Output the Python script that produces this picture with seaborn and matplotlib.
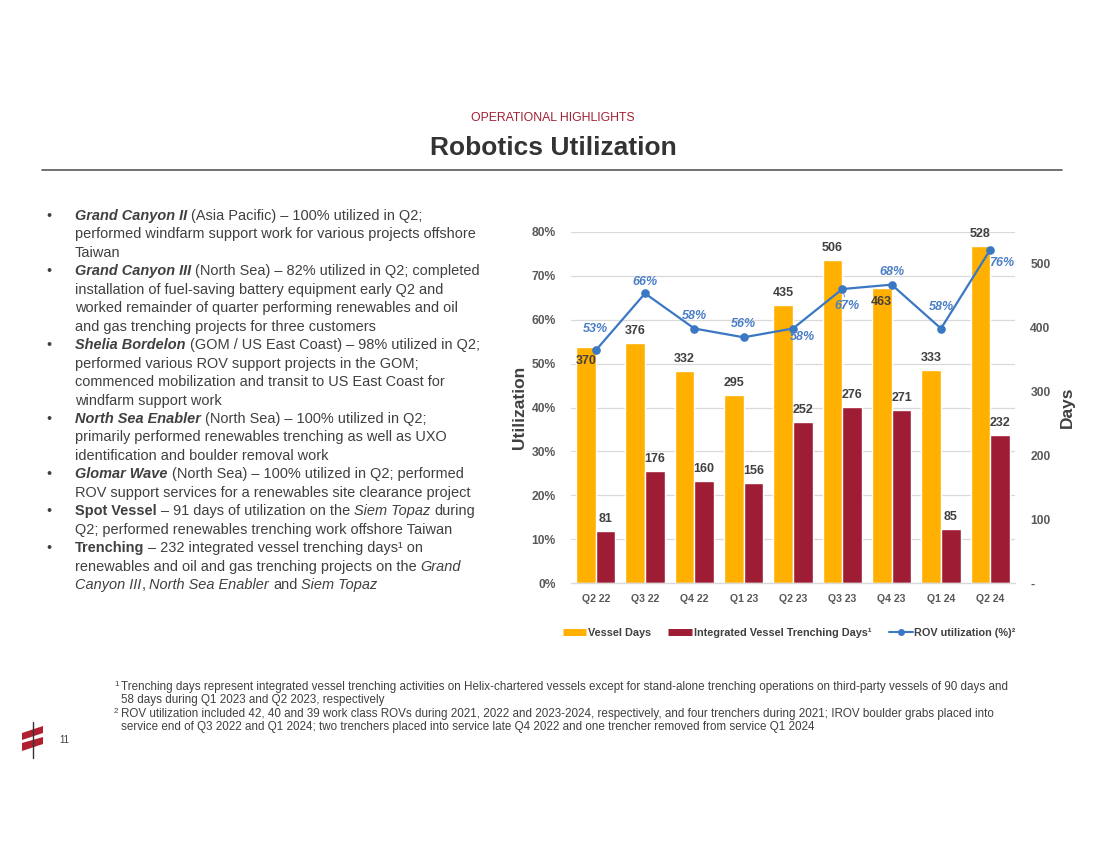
import numpy as np
import pandas as pd
import matplotlib
matplotlib.use("Agg")
import matplotlib.pyplot as plt
import matplotlib.font_manager as fm
from matplotlib.lines import Line2D
from matplotlib.patches import Polygon
import seaborn as sns

# ---------------- data ----------------
quarters = ["Q2 22", "Q3 22", "Q4 22", "Q1 23", "Q2 23", "Q3 23", "Q4 23", "Q1 24", "Q2 24"]
vessel_days = [370, 376, 332, 295, 435, 506, 463, 333, 528]
trench_days = [81, 176, 160, 156, 252, 276, 271, 85, 232]
rov_util = [53, 66, 58, 56, 58, 67, 68, 58, 76]
series_names = ["Vessel Days", "Integrated Vessel Trenching Days\u00b9"]
line_name = "ROV utilization (%)\u00b2"
util_ticks = [0, 10, 20, 30, 40, 50, 60, 70, 80]
days_ticks = [0, 100, 200, 300, 400, 500]
days_tick_labels = ["-", "100", "200", "300", "400", "500"]

# ---------------- style ----------------
sns.set_style("white")
plt.rcParams["font.family"] = ["Liberation Sans", "DejaVu Sans"]

ORANGE = "#FFB000"
RED = "#9E1C34"
BLUE = "#3B78C4"
LBLUE = "#4A7EC6"
TXT = "#404040"
TICK = "#595959"
GRID = "#D9D9D9"

W, H = 1100, 849
fig = plt.figure(figsize=(W / 100, H / 100), dpi=100)
fig.patch.set_facecolor("white")


def fx(x):
    return x / W


def fy(y):
    return 1 - y / H


# ---------------- chart ----------------
ax = fig.add_axes([fx(571), fy(583), 444 / W, 351 / H])
df = pd.DataFrame({
    "Quarter": quarters * 2,
    "Days": vessel_days + trench_days,
    "Series": [series_names[0]] * len(quarters) + [series_names[1]] * len(quarters),
})
sns.barplot(data=df, x="Quarter", y="Days", hue="Series", palette=[ORANGE, RED],
            saturation=1, width=0.8, errorbar=None, legend=False, ax=ax, zorder=2)

ax2 = ax.twinx()
sns.pointplot(x=quarters, y=rov_util, color=BLUE, markers="o", markersize=5,
              linewidth=1.6, errorbar=None, ax=ax2)

ax.set_xlim(-0.5, len(quarters) - 0.5)
ax.set_ylim(0, 550)
ax2.set_ylim(0, 80)

# right axis (days) on primary
ax.yaxis.tick_right()
ax.yaxis.set_label_position("right")
ax.set_yticks(days_ticks)
ax.set_yticklabels(days_tick_labels)
ax.set_yticks(np.linspace(0, 550, 9), minor=True)
ax.grid(False)
ax.grid(True, which="minor", axis="y", color=GRID, lw=0.9, zorder=0)
ax.set_axisbelow(True)
ax.tick_params(axis="y", which="both", length=0, pad=11, labelsize=8.7, labelcolor=TICK)
for lab in ax.get_yticklabels():
    lab.set_fontweight("bold")
ax.set_ylabel("Days", fontsize=12.5, fontweight="bold", color=TXT, labelpad=7)
ax.set_xticks(range(len(quarters)))
ax.set_xticklabels(quarters, fontsize=7.6, fontweight="bold", color=TICK)
ax.tick_params(axis="x", length=0, pad=8)
ax.set_xlabel("")
for s in ["top", "left", "right"]:
    ax.spines[s].set_visible(False)
ax.spines["bottom"].set_color(GRID)
ax.spines["bottom"].set_linewidth(1)

# left axis (utilization) on twin
ax2.yaxis.tick_left()
ax2.yaxis.set_label_position("left")
ax2.set_yticks(util_ticks)
ax2.set_yticklabels([f"{t}%" for t in util_ticks])
ax2.tick_params(axis="y", length=0, pad=11, labelsize=8.7, labelcolor=TICK)
for lab in ax2.get_yticklabels():
    lab.set_fontweight("bold")
ax2.set_ylabel("Utilization", fontsize=12.5, fontweight="bold", color=TXT, labelpad=3)
for s in ax2.spines.values():
    s.set_visible(False)

# bar labels
inside_vessel = {0, 6}
for ci, (cont, vals) in enumerate(zip(ax.containers[:2], [vessel_days, trench_days])):
    for i, (bar, v) in enumerate(zip(cont, vals)):
        xc = bar.get_x() + bar.get_width() / 2
        if ci == 0 and i in inside_vessel:
            off, va = -8, "top"
        else:
            off, va = 6, "bottom"
        ax.annotate(str(v), (xc, bar.get_height()), xytext=(0, off),
                    textcoords="offset pixels", ha="center", va=va,
                    fontsize=9, fontweight="bold", color=TXT, zorder=5)

# line labels (offsets in pixels)
line_offsets = [(0, 21), (0, 11), (0, 13), (0, 13), (9, -8), (5, -17), (0, 13), (0, 22), (11, -13)]
leader = {0, 5, 7}
for i, (v, (dx, dy)) in enumerate(zip(rov_util, line_offsets)):
    kw = {}
    if i in leader:
        kw["arrowprops"] = dict(arrowstyle="-", color=LBLUE, lw=0.6, shrinkA=6, shrinkB=3)
    ax2.annotate(f"{v}%", (i, v), xytext=(dx, dy), textcoords="offset pixels",
                 ha="center", va="center", fontsize=9, fontweight="bold",
                 fontstyle="italic", color=LBLUE, zorder=6, **kw)

# legend
handles = [
    Line2D([], [], color=ORANGE, lw=5, solid_capstyle="butt"),
    Line2D([], [], color=RED, lw=5, solid_capstyle="butt"),
    Line2D([], [], color=BLUE, lw=1.5, marker="o", markersize=4),
]
leg = fig.legend(handles, series_names + [line_name], loc="center",
                 bbox_to_anchor=(fx(789), fy(633)), ncol=3, frameon=False,
                 prop={"size": 7.8, "weight": "bold"}, handlelength=2.2,
                 handletextpad=0.15, columnspacing=1.6)
for t in leg.get_texts():
    t.set_color(TXT)

# ---------------- page header ----------------
fig.text(0.5 + 3 / W, fy(118), "OPERATIONAL HIGHLIGHTS", ha="center", va="center",
         fontsize=8.8, color="#A31F34")
fig.text(0.5 + 3 / W, fy(148), "Robotics Utilization", ha="center", va="center",
         fontsize=19, fontweight="bold", color="#333333")
fig.add_artist(Line2D([fx(42), fx(1062)], [fy(170), fy(170)], color="#595959", lw=1.2))

# ---------------- bullet text ----------------
renderer = fig.canvas.get_renderer()
STY = {
    "r": dict(weight="normal", style="normal"),
    "b": dict(weight="bold", style="normal"),
    "i": dict(weight="normal", style="italic"),
    "bi": dict(weight="bold", style="italic"),
}


def fprop(st, size, family="Liberation Sans"):
    return fm.FontProperties(family=family, size=size, **STY[st])


def twidth(s, fp):
    if not s:
        return 0.0
    w, _, _ = renderer.get_text_width_height_descent(s, fp, ismath=False)
    return w


def space_w(fp):
    return twidth("a a", fp) - twidth("aa", fp)


def rich(x, y, runs, size, color=TXT, family="Liberation Sans"):
    for text, st in runs:
        fp = fprop(st, size, family)
        sw = space_w(fp)
        lead = len(text) - len(text.lstrip(" "))
        trail = len(text) - len(text.rstrip(" "))
        core = text.strip(" ")
        x += lead * sw
        fig.text(fx(x), fy(y), core, fontproperties=fp, color=color, va="baseline", ha="left")
        x += twidth(core, fp) + trail * sw
    return x


bullets = [
    [[("Grand Canyon II", "bi"), (" (Asia Pacific) \u2013 100% utilized in Q2;", "r")],
     [("performed windfarm support work for various projects offshore", "r")],
     [("Taiwan", "r")]],
    [[("Grand Canyon III", "bi"), (" (North Sea) \u2013 82% utilized in Q2; completed", "r")],
     [("installation of fuel-saving battery equipment early Q2 and", "r")],
     [("worked remainder of quarter performing renewables and oil", "r")],
     [("and gas trenching projects for three customers", "r")]],
    [[("Shelia Bordelon", "bi"), (" (GOM / US East Coast) \u2013 98% utilized in Q2;", "r")],
     [("performed various ROV support projects in the GOM;", "r")],
     [("commenced mobilization and transit to US East Coast for", "r")],
     [("windfarm support work", "r")]],
    [[("North Sea Enabler", "bi"), (" (North Sea) \u2013 100% utilized in Q2;", "r")],
     [("primarily performed renewables trenching as well as UXO", "r")],
     [("identification and boulder removal work", "r")]],
    [[("Glomar Wave", "bi"), (" (North Sea) \u2013 100% utilized in Q2; performed", "r")],
     [("ROV support services for a renewables site clearance project", "r")]],
    [[("Spot Vessel", "b"), (" \u2013 91 days of utilization on the ", "r"), ("Siem Topaz", "i"), (" during", "r")],
     [("Q2; performed renewables trenching work offshore Taiwan", "r")]],
    [[("Trenching", "b"), (" \u2013 232 integrated vessel trenching days\u00b9 on", "r")],
     [("renewables and oil and gas trenching projects on the ", "r"), ("Grand", "i")],
     [("Canyon III", "i"), (", ", "r"), ("North Sea Enabler", "i"), (" and ", "r"), ("Siem Topaz", "i")]],
]

BODY = 10.45
line_i = 0
for b in bullets:
    for j, runs in enumerate(b):
        yb = 220 + 18.45 * line_i
        if j == 0:
            fig.text(fx(46), fy(yb), "\u2022", fontsize=BODY, color=TXT, va="baseline", ha="left")
        rich(75, yb, runs, BODY)
        line_i += 1

# ---------------- footnotes ----------------
names = {f.name for f in fm.fontManager.ttflist}
FN_FAM = "Liberation Sans Narrow" if "Liberation Sans Narrow" in names else "Liberation Sans"
fn1a = ("Trenching days represent integrated vessel trenching activities on Helix-chartered vessels "
        "except for stand-alone trenching operations on third-party vessels of 90 days and")
fn1b = "58 days during Q1 2023 and Q2 2023, respectively"
fn2a = ("ROV utilization included 42, 40 and 39 work class ROVs during 2021, 2022 and 2023-2024, "
        "respectively, and four trenchers during 2021; IROV boulder grabs placed into")
fn2b = ("service end of Q3 2022 and Q1 2024; two trenchers placed into service late Q4 2022 "
        "and one trencher removed from service Q1 2024")
ref_w = twidth(fn1a, fprop("r", 10, FN_FAM))
FN = 10 * 886 / ref_w
FNC = "#404040"
for y, sup, txt in [(690, "1", fn1a), (703, "", fn1b), (717, "2", fn2a), (730, "", fn2b)]:
    if sup:
        fig.text(fx(114), fy(y - 4), sup, fontsize=FN * 0.7, family=FN_FAM, color=FNC,
                 va="baseline", ha="left")
    fig.text(fx(121), fy(y), txt, fontsize=FN, family=FN_FAM, color=FNC, va="baseline", ha="left")

fig.text(fx(59), fy(743), "11", fontsize=7, color=TXT, va="baseline", ha="left")

# simple logo mark
fig.add_artist(Line2D([fx(33), fx(33)], [fy(722), fy(758)], color="#333333", lw=1))
for pts in [[(22, 733), (43, 726), (43, 733), (22, 740)],
            [(22, 743), (43, 737), (43, 744), (22, 751)]]:
    fig.add_artist(Polygon([(fx(a), fy(b)) for a, b in pts], closed=True,
                           facecolor="#B0202F", edgecolor="none", transform=fig.transFigure))

fig.savefig("out.png", dpi=100, facecolor="white")
